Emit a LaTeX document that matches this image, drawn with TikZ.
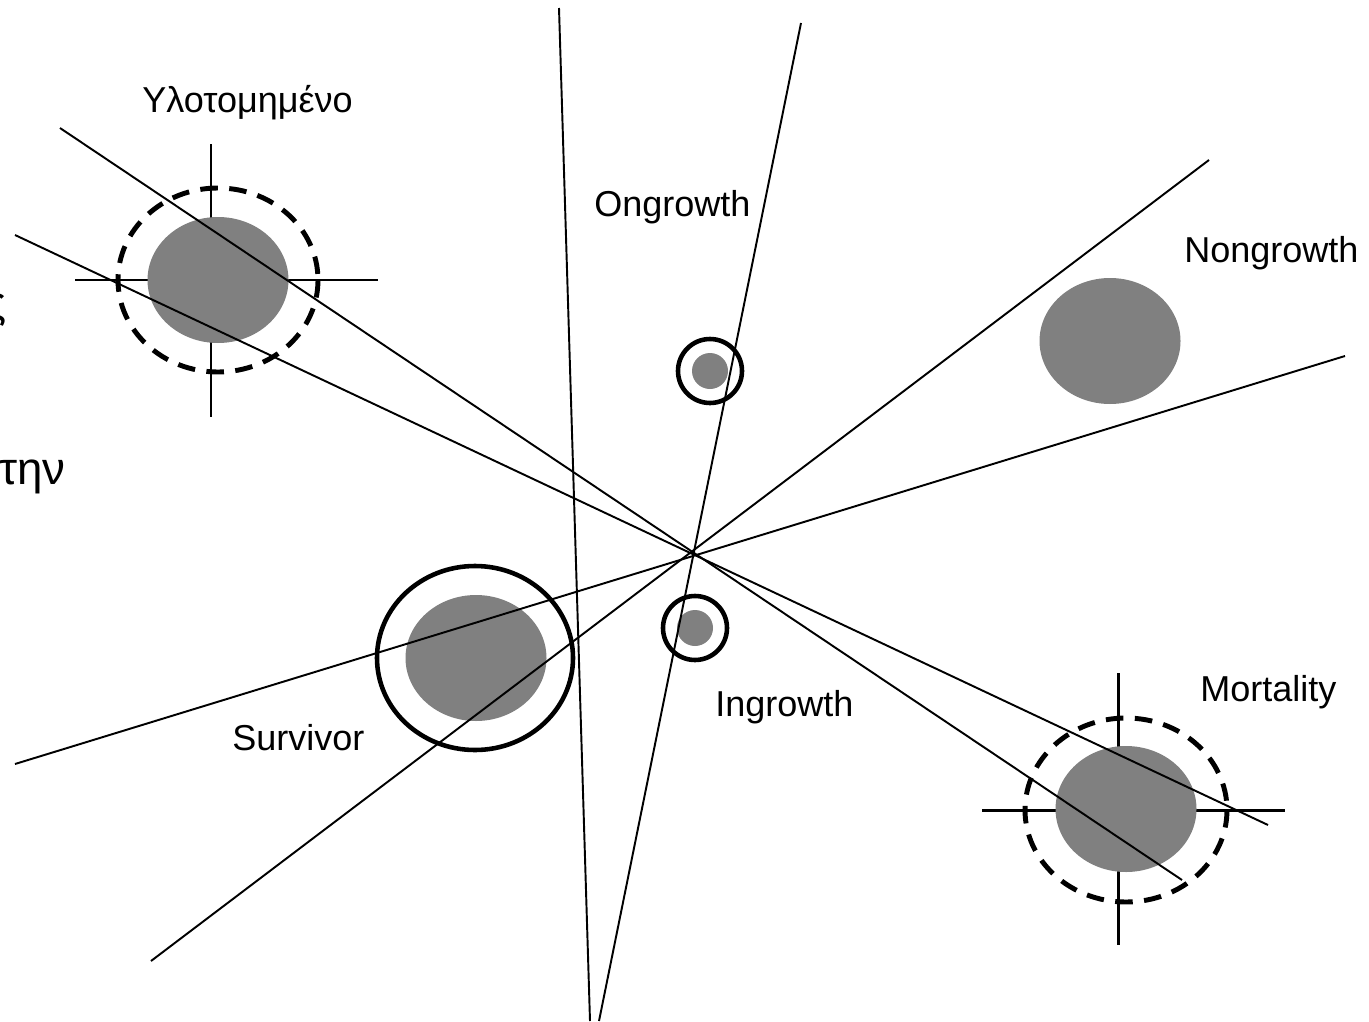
\documentclass[tikz,border=0pt]{standalone}
\usepackage{fontspec}
\setmainfont{Liberation Sans}
\usepackage{tikz}

\tikzset{
  tree/.style={fill=gray, draw=none},
  ray/.style={black, line width=1.1pt},
  cross/.style={black, line width=1.7pt},
  cut/.style={black, line width=2.8pt, dash pattern=on 10pt off 6.5pt},
  ring/.style={black, line width=2.6pt},
  lbl/.style={inner sep=0pt, anchor=base west, font=\fontsize{20.5}{24}\selectfont},
  frag/.style={lbl, font=\fontsize{26}{30}\selectfont}
}

\begin{document}
\begin{tikzpicture}[x=0.02cm, y=-0.02cm]
            \clip (0, 0) rectangle (1369, 1021);
            % cross marks of the cut trees
            \draw[cross] (211, 144) -- (211, 417);
            \draw[cross] (75, 280) -- (378, 280);
            \draw[cross] (1118, 673) -- (1118, 945);
            \draw[cross] (982, 810) -- (1285, 810);
            % trees
            \fill[tree] (218, 280) ellipse (70.5 and 63);
            \fill[tree] (1110, 341) ellipse (70.5 and 63);
            \fill[tree] (476, 658) ellipse (70.5 and 63);
            \fill[tree] (1126, 809) ellipse (70.5 and 63);
            \fill[tree] (710, 371) circle (18);
            \fill[tree] (695, 628) circle (18);
            % rays
            \coordinate (a1) at (559, 8);    \coordinate (b1) at (590, 1021);
            \coordinate (a2) at (801, 23);   \coordinate (b2) at (599, 1021);
            \coordinate (a3) at (60, 128);   \coordinate (b3) at (1182, 880);
            \coordinate (a4) at (15, 235);   \coordinate (b4) at (1268, 825);
            \coordinate (a5) at (15, 764);   \coordinate (b5) at (1345, 356);
            \coordinate (a6) at (151, 961);  \coordinate (b6) at (1209, 160);
            \foreach \i in {1,...,6}
              \draw[ray] (a\i) -- (b\i);
            % cut trees
            \draw[cut] (218, 280) ellipse (100 and 92);
            \draw[cut] (1126, 810) ellipse (101 and 92);
            % rings
            \draw[ring] (475, 658) ellipse (98 and 92);
            \draw[ring] (710, 371) circle (32);
            \draw[ring] (695, 628) circle (32);
            % labels
            \node[lbl] (yloto) at (142, 112) {Υλοτομημένο};
            \node[lbl] (ongr) at (594, 216) {Ongrowth};
            \node[lbl] (nongr) at (1184, 262) {Nongrowth};
            \node[lbl] (mort) at (1200, 701) {Mortality};
            \node[lbl] (ingr) at (715, 716) {Ingrowth};
            \node[lbl] (surv) at (232, 750) {Survivor};
            \node[frag, anchor=base east] (sfrag) at (7, 318) {ς};
            \node[frag] (tfrag) at (-1, 484) {την};
        \end{tikzpicture}
\end{document}
